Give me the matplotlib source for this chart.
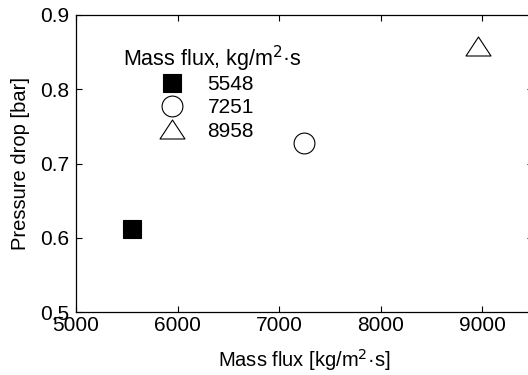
import matplotlib
matplotlib.use("Agg")
import matplotlib.pyplot as plt
from matplotlib.path import Path
from matplotlib.lines import Line2D

plt.rcParams['font.family'] = ['Liberation Sans', 'DejaVu Sans']

# mass flux cases and measured pressure drop
mass_flux = [5548, 7251, 8958]
pressure_drop = [0.612, 0.727, 0.858]
case_labels = ['5548', '7251', '8958']

# flat open triangle, wider than tall
tri = Path([(-1, -0.76), (1, -0.76), (0, 0.76), (-1, -0.76)],
           [Path.MOVETO, Path.LINETO, Path.LINETO, Path.CLOSEPOLY])
styles = [
    dict(marker='s', ms=13.5, mfc='black', mec='black'),
    dict(marker='o', ms=15, mfc='white', mec='black'),
    dict(marker=tri, ms=18, mfc='white', mec='black'),
]

fig = plt.figure(figsize=(5.28, 3.75), dpi=100)
ax = fig.add_axes([0.144, 0.168, 0.865, 0.792])

for x, y, st in zip(mass_flux, pressure_drop, styles):
    ax.plot([x], [y], ls='none', mew=0.8, **st)

ax.set_xlim(5000, 9500)
ax.set_ylim(0.5, 0.9)
ax.set_xticks([5000, 6000, 7000, 8000, 9000])
ax.set_yticks([0.5, 0.6, 0.7, 0.8, 0.9])
ax.tick_params(direction='in', top=True, right=True, length=4, width=0.8,
               labelsize=15)
ax.tick_params(axis='x', pad=3)
ax.tick_params(axis='y', pad=5)
for sp in ax.spines.values():
    sp.set_linewidth(0.9)

ax.set_xlabel('Mass flux [kg/m$^2$·s]', fontsize=14.5, labelpad=8.5)
ax.set_ylabel('Pressure drop [bar]', fontsize=14.5, labelpad=7)

# legend title drawn as its own text so the entries can sit indented
ax.text(0.103, 0.852, 'Mass flux, kg/m$^2$·s', transform=ax.transAxes,
        fontsize=15.5, ha='left', va='center')
handles = [Line2D([], [], ls='none', mew=0.8, **st) for st in styles]
ax.legend(handles, case_labels, frameon=False, fontsize=15,
          loc='upper left', bbox_to_anchor=(0.174, 0.797),
          handletextpad=0.9, labelspacing=0.2, borderaxespad=0,
          handlelength=1.6, borderpad=0)

fig.savefig('out.png', dpi=100)
